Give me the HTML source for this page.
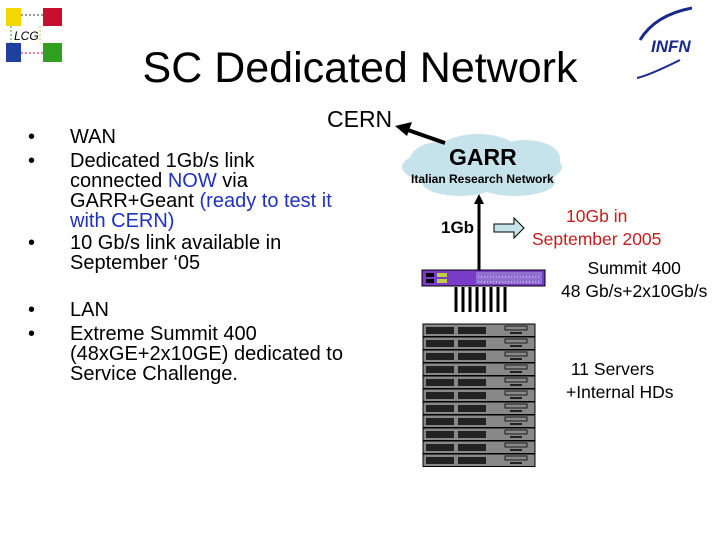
<!DOCTYPE html>
<html><head><style>
body{margin:0;width:720px;height:540px;background:#fff;position:relative;overflow:hidden;font-family:"Liberation Sans",sans-serif}
.a{position:absolute;white-space:nowrap}
.t{font-size:20px;line-height:20px;color:#000}
</style></head><body>
<svg class="a" style="left:0;top:0" width="720" height="540">
<rect x="6" y="8" width="15" height="18" fill="#f0d800"/>
<rect x="43" y="8" width="19" height="18" fill="#c8102e"/>
<rect x="6" y="43" width="15" height="19" fill="#2040a0"/>
<rect x="43" y="43" width="19" height="19" fill="#30a020"/>
<line x1="21" y1="15" x2="43" y2="15" stroke="#335" stroke-dasharray="2,2"/>
<line x1="21" y1="53" x2="43" y2="53" stroke="#c03" stroke-dasharray="2,2"/>
<line x1="11" y1="26" x2="11" y2="43" stroke="#393" stroke-dasharray="2,2"/>
<line x1="40" y1="26" x2="40" y2="43" stroke="#cc3" stroke-dasharray="2,2"/>
<text x="14" y="40" font-size="12" font-style="italic" font-family="Liberation Sans">LCG</text>
<path d="M640 40 Q655 15 692 8" stroke="#1a2a8a" stroke-width="3" fill="none"/>
<path d="M637 78 Q650 75 680 60" stroke="#1a2a8a" stroke-width="2" fill="none"/>
<text x="651" y="52" font-size="17" font-weight="bold" font-style="italic" fill="#1a2a8a" font-family="Liberation Sans">INFN</text>
<g fill="#c6e2ea">
<ellipse cx="482" cy="167" rx="80" ry="22"/>
<ellipse cx="440" cy="160" rx="30" ry="18"/>
<ellipse cx="478" cy="150" rx="38" ry="16"/>
<ellipse cx="525" cy="158" rx="35" ry="18"/>
<ellipse cx="460" cy="182" rx="38" ry="14"/>
<ellipse cx="515" cy="182" rx="40" ry="14"/>
</g>
<line x1="445" y1="143" x2="405" y2="129" stroke="#000" stroke-width="4"/>
<polygon points="395,126 412,122 407,136" fill="#000"/>
<line x1="479" y1="272" x2="479" y2="202" stroke="#000" stroke-width="3"/>
<polygon points="479,194 474,204 484,204" fill="#000"/>
<polygon points="494,224 514,224 514,218 524,228 514,238 514,232 494,232" fill="#c6e2ea" stroke="#000" stroke-width="1"/>
<rect x="422" y="270" width="123" height="16" fill="#7a3cc8" stroke="#000"/>
<rect x="426" y="273" width="8" height="4" fill="#000"/><rect x="426" y="279" width="8" height="4" fill="#000"/>
<rect x="437" y="273" width="10" height="4" fill="#bcd040"/><rect x="437" y="279" width="10" height="4" fill="#bcd040"/>
<rect x="476" y="272" width="66" height="12" fill="#9070d0"/>
<g stroke="#fff" stroke-width="0.8"><line x1="478" y1="277" x2="540" y2="277" stroke-dasharray="1,2"/><line x1="478" y1="282" x2="540" y2="282" stroke-dasharray="1,2"/></g>
<g stroke="#000" stroke-width="3">
<line x1="456" y1="287" x2="456" y2="312"/><line x1="463" y1="287" x2="463" y2="312"/><line x1="470" y1="287" x2="470" y2="312"/><line x1="477" y1="287" x2="477" y2="312"/><line x1="484" y1="287" x2="484" y2="312"/><line x1="491" y1="287" x2="491" y2="312"/><line x1="498" y1="287" x2="498" y2="312"/><line x1="505" y1="287" x2="505" y2="312"/>
</g>
<g id="s">
<rect x="423" y="324" width="112" height="12.5" fill="#888" stroke="#000" stroke-width="1"/>
<rect x="426" y="327" width="28" height="7" fill="#222"/>
<rect x="458" y="327" width="28" height="7" fill="#222"/>
<rect x="505" y="326" width="22" height="4" fill="none" stroke="#000" stroke-width="0.8"/>
<rect x="510" y="332" width="12" height="2" fill="#222"/>
</g>
<use href="#s" y="13"/><use href="#s" y="26"/><use href="#s" y="39"/><use href="#s" y="52"/><use href="#s" y="65"/><use href="#s" y="78"/><use href="#s" y="91"/><use href="#s" y="104"/><use href="#s" y="117"/><use href="#s" y="130"/>
</svg>
<div class="a" style="left:0;width:720px;top:44px;text-align:center;font-size:43px;line-height:48px">SC Dedicated Network</div>
<div class="a t" style="left:327px;top:107px;font-size:23px;line-height:24px">CERN</div>
<div class="a t" style="left:28px;top:127px">•</div><div class="a t" style="left:70px;top:127px">WAN</div>
<div class="a t" style="left:28px;top:151px">•</div>
<div class="a t" style="left:70px;top:151px">Dedicated 1Gb/s link<br>connected <span style="color:#2030c0">NOW</span> via<br>GARR+Geant <span style="color:#2030c0">(ready to test it<br>with CERN)</span></div>
<div class="a t" style="left:28px;top:233px">•</div>
<div class="a t" style="left:70px;top:233px">10 Gb/s link available in<br>September ‘05</div>
<div class="a t" style="left:28px;top:300px">•</div><div class="a t" style="left:70px;top:300px">LAN</div>
<div class="a t" style="left:28px;top:324px">•</div>
<div class="a t" style="left:70px;top:324px">Extreme Summit 400<br>(48xGE+2x10GE) dedicated to<br>Service Challenge.</div>
<div class="a" style="left:449px;top:144px;font-size:23px;font-weight:bold">GARR</div>
<div class="a" style="left:411px;top:172px;font-size:12px;font-weight:bold">Italian Research Network</div>
<div class="a" style="left:441px;top:218px;font-size:17px;font-weight:bold">1Gb</div>
<div class="a" style="left:532px;top:205px;font-size:17.5px;line-height:23px;color:#c02020;text-align:center">10Gb in<br>September 2005</div>
<div class="a" style="left:561px;top:257px;font-size:17.5px;line-height:23px;text-align:center">Summit 400<br>48 Gb/s+2x10Gb/s</div>
<div class="a" style="left:566px;top:358px;font-size:17.5px;line-height:23px">&nbsp;11 Servers<br>+Internal HDs</div>
</body></html>
